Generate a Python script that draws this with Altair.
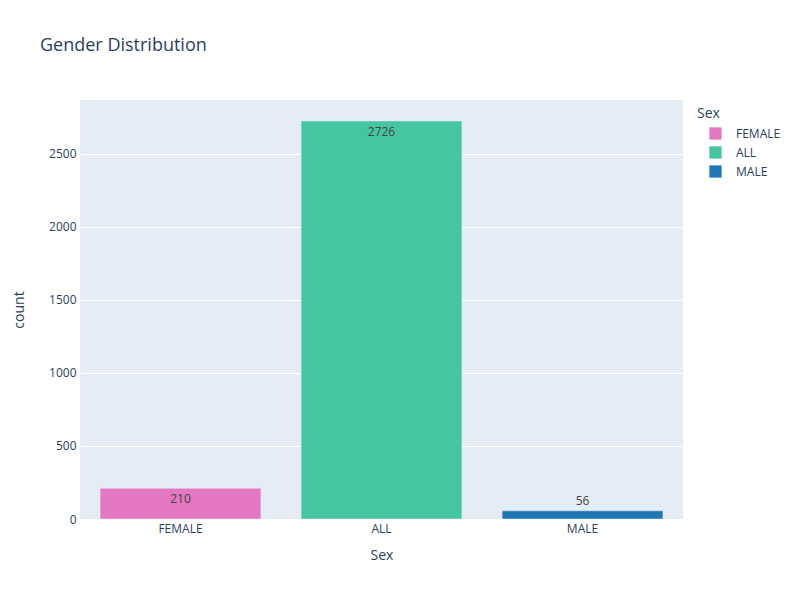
import altair as alt
import pandas as pd

categories = ["FEMALE", "ALL", "MALE"]
counts = [210, 2726, 56]
colors = ["#e377c2", "#45c6a0", "#1f77b4"]

df = pd.DataFrame({"Sex": categories, "count": counts})

FONT = "Open Sans"
TXT = "#2a3f5f"

x_enc = alt.X("Sex:N", sort=categories,
              scale=alt.Scale(paddingInner=0.2, paddingOuter=0.1),
              axis=alt.Axis(title="Sex", labelAngle=0, domain=False, ticks=False,
                            labelPadding=4, titlePadding=14, labelFontSize=12,
                            titleFontSize=14, labelColor=TXT, titleColor=TXT,
                            labelFont=FONT, titleFont=FONT, titleFontWeight="normal"))
y_enc = alt.Y("count:Q", scale=alt.Scale(domain=[0, 2869.5], nice=False, zero=True),
              axis=alt.Axis(title="count", values=[0, 500, 1000, 1500, 2000, 2500],
                            format="d",
                            domain=False, ticks=False, gridColor="white", gridWidth=1,
                            labelPadding=4, titlePadding=22, labelFontSize=12,
                            titleFontSize=14, labelColor=TXT, titleColor=TXT,
                            labelFont=FONT, titleFont=FONT, titleFontWeight="normal"))

bars = alt.Chart(df).mark_bar(stroke="#E5ECF6", strokeWidth=0.5).encode(
    x=x_enc,
    y=y_enc,
    color=alt.Color("Sex:N", sort=categories,
                    scale=alt.Scale(domain=categories, range=colors),
                    legend=alt.Legend(title="Sex", orient="none", legendX=617, legendY=7,
                                      symbolType="square", symbolSize=150,
                                      symbolStrokeWidth=0, symbolOffset=12,
                                      labelFontSize=12, titleFontSize=14,
                                      labelColor=TXT, titleColor=TXT, labelFont=FONT,
                                      titleFont=FONT, titleFontWeight="normal",
                                      rowPadding=6, labelOffset=14, titlePadding=6)),
)

inside = alt.Chart(df).transform_filter("datum.count >= 150").mark_text(
    baseline="top", dy=6, fontSize=12, font=FONT, color="#444"
).encode(x=alt.X("Sex:N", sort=categories), y="count:Q", text="count:Q")

outside = alt.Chart(df).transform_filter("datum.count < 150").mark_text(
    baseline="bottom", dy=-3, fontSize=12, font=FONT, color="#444"
).encode(x=alt.X("Sex:N", sort=categories), y="count:Q", text="count:Q")

chart = alt.layer(bars, inside, outside).properties(
    width=603, height=419,
    title=alt.TitleParams("Gender Distribution", anchor="start", frame="group", dx=-40,
                          offset=45, fontSize=18, font=FONT, color=TXT,
                          fontWeight="normal"),
    autosize=alt.AutoSizeParams(type="none"),
    padding={"left": 80, "top": 100, "right": 117, "bottom": 81},
).configure(background="white").configure_view(fill="#E5ECF6", strokeWidth=0, stroke=None)

chart.save("out.html", embed_options={"renderer": "svg", "actions": False})
